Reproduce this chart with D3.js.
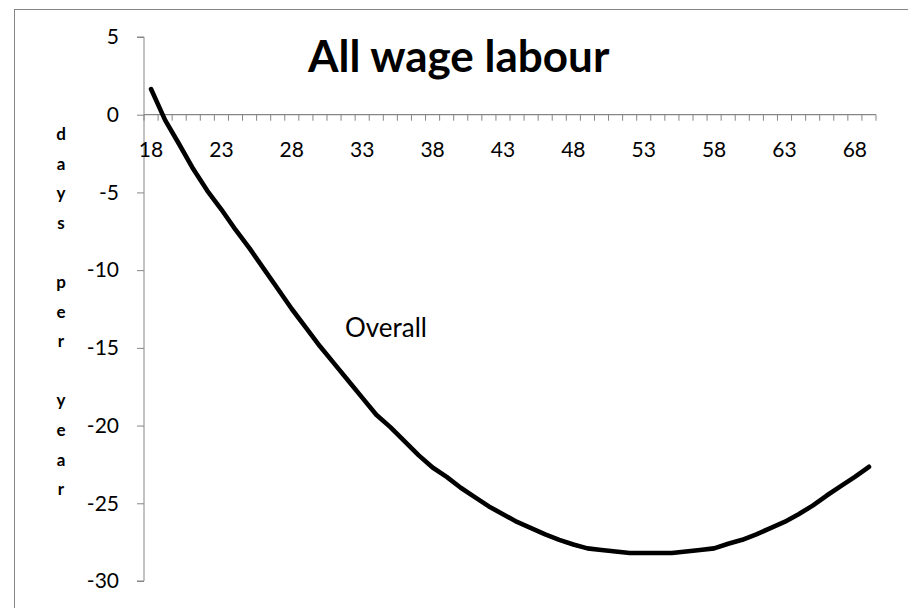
<!DOCTYPE html>
<html>
<head>
<meta charset="utf-8">
<script src="https://cdn.jsdelivr.net/npm/d3@7"></script>
<style>
  body { margin: 0; background: #fff; }
  svg { display: block; font-family: Lato, "Open Sans", sans-serif; }
</style>
</head>
<body>
<svg id="chart" width="908" height="608"></svg>
<script>
const ages = d3.range(18, 70)
const overall = [
  1.65, -0.35, -1.9, -3.5, -4.9, -6.1, -7.4, -8.6, -9.9, -11.2,
  -12.5, -13.7, -14.9, -16.0, -17.1, -18.2, -19.3, -20.1, -21.0, -21.9,
  -22.7, -23.3, -24.0, -24.6, -25.2, -25.7, -26.2, -26.6, -27.0, -27.35,
  -27.65, -27.9, -28.0, -28.1, -28.2, -28.2, -28.2, -28.2, -28.1, -28.0,
  -27.9, -27.6, -27.35, -27.0, -26.6, -26.2, -25.7, -25.15, -24.5, -23.9,
  -23.3, -22.65
]
const yTicks = [5, 0, -5, -10, -15, -20, -25, -30]
const xLabels = ages.filter(a => (a - 18) % 5 === 0)
const title = "All wage labour"
const yTitle = "days per year"
const seriesName = "Overall"

const grey = "#868686"
const svg = d3.select("#chart")

svg.append("rect")
  .attr("x", 14.5).attr("y", 9.5)
  .attr("width", 920).attr("height", 620)
  .attr("fill", "#fff")
  .attr("stroke", grey)

const x = d3.scaleBand()
  .domain(ages)
  .range([144, 876])
const y = d3.scaleLinear()
  .domain([-30, 5])
  .range([581, 37])

// y axis
const yAxis = svg.append("g")
  .attr("transform", "translate(144,0)")
  .call(d3.axisLeft(y).tickValues(yTicks).tickSize(7).tickPadding(18).tickFormat(d3.format("d")))
yAxis.select(".domain").attr("stroke", grey).attr("d", `M-7,${y(5)}H0V${y(-30)}H-7`)
yAxis.selectAll(".tick line").attr("stroke", grey)
yAxis.selectAll(".tick text")
  .attr("font-size", 21).attr("fill", "#000")
  .attr("font-family", "Lato, sans-serif")
  .text(d => d < 0 ? "-" + Math.abs(d) : d)

// x axis on the zero line
const xAxis = svg.append("g")
  .attr("transform", `translate(0,${y(0)})`)
xAxis.append("line")
  .attr("x1", x.range()[0]).attr("x2", x.range()[1])
  .attr("stroke", grey).attr("stroke-width", 1.3)
xAxis.selectAll(".minor")
  .data(ages.concat([70]))
  .join("line")
  .attr("class", "minor")
  .attr("x1", d => d === 70 ? x.range()[1] : x(d))
  .attr("x2", d => d === 70 ? x.range()[1] : x(d))
  .attr("y1", 0).attr("y2", 6)
  .attr("stroke", grey)
xAxis.selectAll(".lbl")
  .data(xLabels)
  .join("text")
  .attr("class", "lbl")
  .attr("x", d => x(d) + x.bandwidth() / 2)
  .attr("y", 42)
  .attr("text-anchor", "middle")
  .attr("font-size", 21)
  .text(d => d)

const line = d3.line()
  .x((d, i) => x(ages[i]) + x.bandwidth() / 2)
  .y(d => y(d))
svg.append("path")
  .datum(overall)
  .attr("d", line)
  .attr("fill", "none")
  .attr("stroke", "#000")
  .attr("stroke-width", 4.6)
  .attr("stroke-linecap", "round")
  .attr("stroke-linejoin", "round")

svg.append("text")
  .attr("x", 308).attr("y", 72)
  .attr("font-size", 44).attr("font-weight", "bold")
  .text(title)

svg.append("text")
  .attr("x", 345).attr("y", 337)
  .attr("font-size", 26)
  .text(seriesName)

const yt = svg.append("text")
  .attr("font-size", 17).attr("font-weight", "bold")
  .attr("text-anchor", "middle")
yTitle.split("").forEach((c, i) => {
  yt.append("tspan")
    .attr("x", 61)
    .attr("y", 140 + i * 29.6)
    .text(c === " " ? "\u00a0" : c)
})
</script>
</body>
</html>
